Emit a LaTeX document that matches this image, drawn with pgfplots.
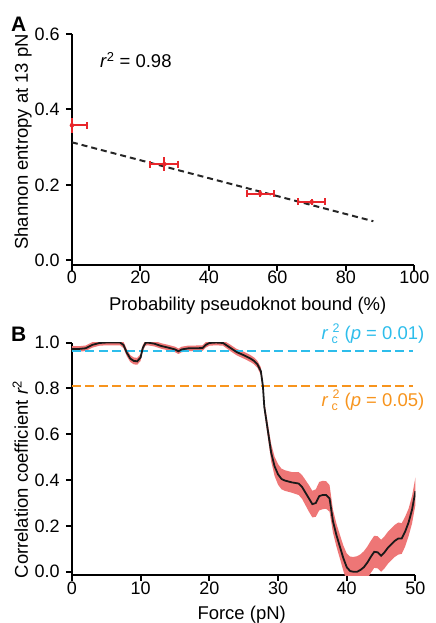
\documentclass[border=0pt]{standalone}
\usepackage{pgfplots}
\pgfplotsset{compat=1.18}
\usepackage{pgfplotstable}
\usepgfplotslibrary{fillbetween}
\usepackage{fontspec}
\setmainfont{Liberation Sans}
\definecolor{errred}{HTML}{E8262B}
\definecolor{bandred}{HTML}{EE7676}
\definecolor{cyanl}{HTML}{2DBDEB}
\definecolor{orangel}{HTML}{F7941D}
\pgfplotstableread{
x y lo hi
0 0.972 0.960 0.984
1 0.972 0.960 0.984
2 0.975 0.963 0.987
3 0.990 0.978 1.002
4 0.998 0.986 1.010
5 1.000 0.988 1.012
6 1.000 0.988 1.012
7 1.000 0.988 1.012
7.5 0.990 0.976 1.004
8 0.955 0.940 0.970
8.5 0.930 0.915 0.945
9 0.920 0.905 0.935
9.5 0.918 0.903 0.933
10 0.935 0.920 0.950
10.3 0.975 0.962 0.988
10.7 0.998 0.986 1.010
11 1.000 0.988 1.012
12 0.995 0.983 1.007
13 0.985 0.973 0.997
14 0.978 0.966 0.990
15 0.970 0.958 0.982
15.5 0.962 0.950 0.974
16 0.970 0.958 0.982
17 0.975 0.963 0.987
18 0.975 0.963 0.987
19 0.976 0.964 0.988
19.5 0.990 0.978 1.002
20 0.998 0.986 1.010
21 1.000 0.988 1.012
22 0.998 0.986 1.010
23 0.978 0.964 0.992
24 0.958 0.944 0.972
25 0.945 0.930 0.960
26 0.930 0.915 0.945
26.5 0.920 0.905 0.935
27 0.905 0.890 0.920
27.5 0.875 0.858 0.892
27.8 0.810 0.790 0.830
28 0.720 0.698 0.742
28.3 0.660 0.632 0.688
28.7 0.580 0.548 0.612
29 0.520 0.482 0.558
29.5 0.460 0.418 0.502
30 0.425 0.380 0.470
30.5 0.405 0.360 0.450
31 0.398 0.353 0.443
32 0.390 0.345 0.435
33 0.385 0.335 0.435
33.5 0.370 0.318 0.422
34 0.345 0.290 0.400
34.5 0.320 0.262 0.378
35 0.295 0.237 0.353
35.5 0.300 0.240 0.360
36 0.330 0.268 0.392
36.5 0.335 0.273 0.397
37 0.335 0.275 0.395
37.5 0.320 0.262 0.378
38 0.220 0.170 0.270
38.5 0.160 0.110 0.210
39 0.110 0.058 0.162
39.5 0.060 0.005 0.115
40 0.020 -0.040 0.080
40.5 0.003 -0.060 0.066
41 0.000 -0.065 0.065
41.5 0.000 -0.065 0.068
42 0.008 -0.060 0.076
42.5 0.020 -0.050 0.090
43 0.040 -0.030 0.110
43.5 0.065 -0.005 0.135
44 0.087 0.017 0.157
44.5 0.085 0.015 0.155
45 0.070 0.000 0.140
45.5 0.085 0.015 0.155
46 0.105 0.035 0.175
46.5 0.120 0.050 0.190
47 0.135 0.065 0.205
47.5 0.145 0.075 0.215
48 0.145 0.078 0.212
48.5 0.175 0.110 0.240
49 0.215 0.155 0.275
49.5 0.270 0.210 0.330
50 0.352 0.292 0.412
}\banddata
\newcommand{\rc}{\textit{r}\,\makebox[0pt][l]{\raisebox{-4pt}{\fontsize{12.5}{12}\selectfont c}}\hspace{1pt}\raisebox{7.5pt}{\fontsize{12.5}{12}\selectfont 2}}
\begin{document}
\fontsize{18.5}{22}\selectfont
\begin{tikzpicture}[x=1pt,y=1pt]
\pgfplotsset{
 every axis/.append style={
  scale only axis,
  axis x line*=bottom, axis y line*=left,
  xtick pos=bottom, ytick pos=left,
  axis line style={line width=2pt, -},
  xtick style={draw=black, line width=2pt},
  ytick style={draw=black, line width=2pt},
  xtick align=outside, ytick align=outside,
  major tick length=6pt,
  tick label style={font=\fontsize{18}{21}\selectfont},
  /pgf/number format/assume math mode=true,
  xticklabel shift=-6pt,
  yticklabel style={/pgf/number format/.cd, fixed, fixed zerofill, precision=1},
 }
}
% Panel A
\begin{axis}[at={(72pt,358pt)}, anchor=south west, width=343pt, height=231pt,
 xmin=0, xmax=100, ymin=-0.011, ymax=0.6,
 xtick={0,20,...,100}, ytick={0,0.2,0.4,0.6}, clip=false]
\addplot[black!85, line width=2pt, dash pattern=on 6pt off 4pt] coordinates {(0,0.313) (88,0.104)};
\addplot[only marks, mark=none, errred,
 error bars/.cd, x dir=both, x explicit, y dir=both, y explicit,
 error mark=none,
 error bar style={line width=2pt, errred}]
coordinates {
 (0,0.358) += (4.3,0.02) -= (0,0.02)
 (27,0.255) +- (4.1,0.019)
 (55,0.177) +- (4.0,0.009)
 (70,0.155) +- (4.0,0.007)
};
% error bar caps (ends of the x error bars)
\addplot[only marks, mark=|, mark size=3.5pt, errred, mark options={line width=2pt, errred}]
coordinates {(4.3,0.358) (22.9,0.255) (31.1,0.255) (51,0.177) (59,0.177) (66,0.155) (74,0.155)};
\end{axis}
% Panel B
\begin{axis}[at={(72pt,47pt)}, anchor=south west, width=344pt, height=233pt,
 xmin=0, xmax=50, ymin=-0.015, ymax=1.0,
 xtick={0,10,...,50}, ytick={0,0.2,0.4,0.6,0.8,1.0}]
\addplot[name path=hi, draw=none] table[x=x,y=hi]{\banddata};
\addplot[name path=lo, draw=none] table[x=x,y=lo]{\banddata};
\addplot[bandred, draw=none] fill between[of=hi and lo];
\addplot[cyanl, line width=2pt, dash pattern=on 9pt off 4.5pt] coordinates {(0,0.961) (49.6,0.961)};
\addplot[orangel, line width=2pt, dash pattern=on 9pt off 4.5pt] coordinates {(0,0.81) (49.6,0.81)};
\addplot[black!90, line width=1.8pt] table[x=x,y=y]{\banddata};
\end{axis}
% texts
\node[anchor=base west, inner sep=0pt, font=\bfseries\fontsize{21}{24}\selectfont] at (11pt,591pt) {A};
\node[anchor=base west, inner sep=0pt, font=\bfseries\fontsize{21}{24}\selectfont] at (11pt,281pt) {B};
\node[anchor=base west, inner sep=0pt] at (100pt,555pt) {\textit{r}\textsuperscript{2} = 0.98};
\node[anchor=base, rotate=90, inner sep=0pt] at (28pt,481pt) {Shannon entropy at 13 pN};
\node[anchor=base, rotate=90, inner sep=0pt] at (28pt,143pt) {Correlation coefficient \textit{r}\textsuperscript{2}};
\node[anchor=base, inner sep=0pt] at (248pt,312pt) {Probability pseudoknot bound (\%)};
\node[anchor=base, inner sep=0pt] at (242pt,3pt) {Force (pN)};
\node[anchor=base east, inner sep=0pt, text=cyanl] at (425pt,283pt) {\rc\ (\textit{p} = 0.01)};
\node[anchor=base east, inner sep=0pt, text=orangel] at (425pt,216pt) {\rc\ (\textit{p} = 0.05)};
\path (0pt,0pt) rectangle (429pt,623pt);
\end{tikzpicture}
\end{document}
